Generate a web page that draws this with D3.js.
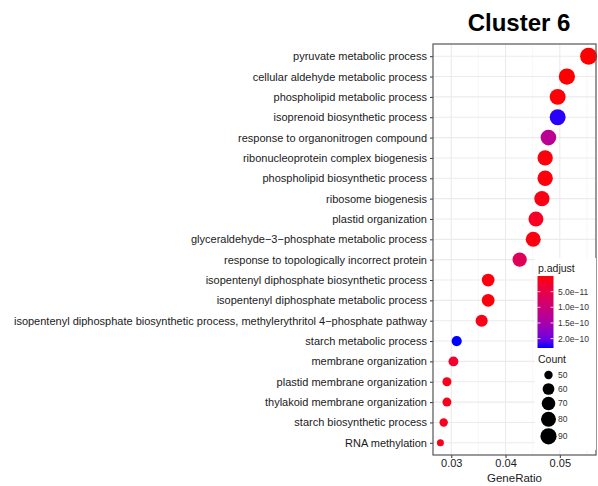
<!DOCTYPE html>
<html>
<head>
<meta charset="utf-8">
<script src="https://cdn.jsdelivr.net/npm/d3@7"></script>
<style>
  body { margin: 0; background: #fff; }
  svg { font-family: "Liberation Sans", Arial, Helvetica, sans-serif; }
  .yAxis text, .xAxis text { fill: #1a1a1a; }
</style>
</head>
<body>
<div id="container"></div>
<script>
const WIDTH = 598,
      HEIGHT = 486;

// panel box (ggplot panel)
const margin = { top: 44, bottom: 31, left: 433, right: 2 };
const width = WIDTH - margin.left - margin.right,
      height = HEIGHT - margin.top - margin.bottom;

// datos
const terms = [
  "pyruvate metabolic process",
  "cellular aldehyde metabolic process",
  "phospholipid metabolic process",
  "isoprenoid biosynthetic process",
  "response to organonitrogen compound",
  "ribonucleoprotein complex biogenesis",
  "phospholipid biosynthetic process",
  "ribosome biogenesis",
  "plastid organization",
  "glyceraldehyde\u22123\u2212phosphate metabolic process",
  "response to topologically incorrect protein",
  "isopentenyl diphosphate biosynthetic process",
  "isopentenyl diphosphate metabolic process",
  "isopentenyl diphosphate biosynthetic process, methylerythritol 4\u2212phosphate pathway",
  "starch metabolic process",
  "membrane organization",
  "plastid membrane organization",
  "thylakoid membrane organization",
  "starch biosynthetic process",
  "RNA methylation"
];
const geneRatio = [0.0553, 0.0513, 0.0496, 0.0496, 0.0479, 0.0473, 0.0473, 0.0467, 0.0456, 0.0451,
                   0.0426, 0.0368, 0.0368, 0.0356, 0.0310, 0.0304, 0.0292, 0.0292, 0.0286, 0.0280];
const counts = [98, 91, 88, 88, 85, 83, 83, 82, 80, 80, 75, 65, 65, 62, 54, 53, 51, 51, 50, 49];
const pAdjust = [1e-14, 5e-13, 3e-12, 2.26e-10, 1.25e-10, 5e-12, 4e-12, 8e-12, 1.8e-11, 6e-12,
                 6.5e-11, 5e-12, 5e-12, 9e-12, 2.3e-10, 2.5e-11, 1.2e-11, 1.2e-11, 1.5e-11, 1.0e-11];
const xTicks = [0.03, 0.04, 0.05];
const xMinor = [0.035, 0.045, 0.055];
const pTicks = [5e-11, 1e-10, 1.5e-10, 2e-10];
const pTickLabels = ["5.0e\u221211", "1.0e\u221210", "1.5e\u221210", "2.0e\u221210"];
const countBreaks = [50, 60, 70, 80, 90];

const data = terms.map((t, i) => ({
  term: t, ratio: geneRatio[i], count: counts[i], p: pAdjust[i]
}));

const svg = d3.select('#container')
  .append('svg')
  .attr("width", WIDTH)
  .attr("height", HEIGHT);

// escalas
const ext = d3.extent(geneRatio);
const pad = (ext[1] - ext[0]) * 0.05;
const xScale = d3.scaleLinear()
  .domain([ext[0] - pad, ext[1] + pad])
  .range([margin.left, margin.left + width]);

const yScale = d3.scalePoint()
  .domain(terms)
  .range([margin.top, margin.top + height])
  .padding(0.6);

const pExt = d3.extent(pAdjust);
const color = d3.scaleLinear()
  .domain(pExt)
  .range(["red", "blue"])
  .interpolate(d3.interpolateLab);

// tamano tipo area_pal de ggplot
const cExt = d3.extent(counts);
const sizeNorm = d3.scaleLinear().domain(cExt).range([0, 1]);
const radius = d3.scaleLinear().domain([0, 1]).range([3.5, 8.5]);
const r = (c) => radius(Math.sqrt(Math.max(0, sizeNorm(c))));

// grid
const grid = svg.append("g");
grid.selectAll(".minor")
  .data(xMinor)
  .join("line")
  .attr("x1", d => xScale(d)).attr("x2", d => xScale(d))
  .attr("y1", margin.top).attr("y2", margin.top + height)
  .attr("stroke", "#f2f2f2").attr("stroke-width", 0.6);
grid.selectAll(".major")
  .data(xTicks)
  .join("line")
  .attr("x1", d => xScale(d)).attr("x2", d => xScale(d))
  .attr("y1", margin.top).attr("y2", margin.top + height)
  .attr("stroke", "#ebebeb").attr("stroke-width", 1.1);
grid.selectAll(".hmajor")
  .data(terms)
  .join("line")
  .attr("x1", margin.left).attr("x2", margin.left + width)
  .attr("y1", d => yScale(d)).attr("y2", d => yScale(d))
  .attr("stroke", "#ebebeb").attr("stroke-width", 1.1);

// puntos
svg.append("g")
  .selectAll("circle")
  .data(data)
  .join("circle")
  .attr("cx", d => xScale(d.ratio))
  .attr("cy", d => yScale(d.term))
  .attr("r", d => r(d.count))
  .attr("fill", d => color(d.p));

// ejes
const xAxis = d3.axisBottom(xScale)
  .tickValues(xTicks)
  .tickSize(3)
  .tickPadding(1)
  .tickFormat(d3.format(".2f"));
svg.append("g")
  .attr("class", "xAxis")
  .attr("transform", `translate(0, ${margin.top + height})`)
  .call(xAxis)
  .call(g => g.select(".domain").remove())
  .call(g => g.selectAll("line").attr("stroke", "#333"))
  .call(g => g.selectAll("text").attr("font-size", "11px"));

const yAxis = d3.axisLeft(yScale).tickSize(3).tickPadding(3);
svg.append("g")
  .attr("class", "yAxis")
  .attr("transform", `translate(${margin.left}, 0)`)
  .call(yAxis)
  .call(g => g.select(".domain").remove())
  .call(g => g.selectAll("line").attr("stroke", "#333"))
  .call(g => g.selectAll("text").attr("font-size", "11px"));

// borde del panel
svg.append("rect")
  .attr("x", margin.left).attr("y", margin.top)
  .attr("width", width).attr("height", height)
  .attr("fill", "none")
  .attr("stroke", "#555").attr("stroke-width", 1.2);

svg.append("text")
  .attr("x", xScale.range()[0] + width / 2)
  .attr("y", 482)
  .attr("text-anchor", "middle")
  .attr("font-size", "11.5px")
  .attr("fill", "#1a1a1a")
  .text("GeneRatio");

svg.append("text")
  .attr("x", 519)
  .attr("y", 31)
  .attr("text-anchor", "middle")
  .attr("font-size", "24px")
  .attr("font-weight", "bold")
  .attr("fill", "#000")
  .text("Cluster 6");

// leyenda
const leg = svg.append("g");
leg.append("rect")
  .attr("x", 535).attr("y", 258)
  .attr("width", 61).attr("height", 192)
  .attr("fill", "#fff");

leg.append("text")
  .attr("x", 538).attr("y", 272)
  .attr("font-size", "10.5px").attr("fill", "#1a1a1a")
  .text("p.adjust");

const barTop = 276, barH = 72, barX = 537.5, barW = 16;
const defs = svg.append("defs");
const grad = defs.append("linearGradient")
  .attr("id", "pgrad")
  .attr("x1", 0).attr("y1", 0).attr("x2", 0).attr("y2", 1);
d3.range(0, 1.001, 0.1).forEach(t => {
  grad.append("stop")
    .attr("offset", t)
    .attr("stop-color", color(pExt[0] + t * (pExt[1] - pExt[0])));
});
leg.append("rect")
  .attr("x", barX).attr("y", barTop)
  .attr("width", barW).attr("height", barH)
  .attr("fill", "url(#pgrad)");

const pScale = d3.scaleLinear().domain(pExt).range([barTop, barTop + barH]);
leg.selectAll(".ptick")
  .data(pTicks)
  .join("g")
  .each(function (d) {
    const g = d3.select(this);
    const y = pScale(d);
    g.append("line").attr("x1", barX).attr("x2", barX + 3)
      .attr("y1", y).attr("y2", y).attr("stroke", "#fff").attr("stroke-width", 0.8);
    g.append("line").attr("x1", barX + barW - 3).attr("x2", barX + barW)
      .attr("y1", y).attr("y2", y).attr("stroke", "#fff").attr("stroke-width", 0.8);
  });
leg.selectAll(".plab")
  .data(pTicks)
  .join("text")
  .attr("x", 558)
  .attr("y", d => pScale(d))
  .attr("dy", "0.35em")
  .attr("font-size", "8.5px")
  .attr("fill", "#333")
  .text((d, i) => pTickLabels[i]);

leg.append("text")
  .attr("x", 538).attr("y", 363)
  .attr("font-size", "10.5px").attr("fill", "#1a1a1a")
  .text("Count");

// posiciones de las claves segun su tamano
let yk = 368;
const keyY = countBreaks.map(c => {
  const h = Math.max(14, 2 * r(c) + 1.5);
  const y = yk + h / 2;
  yk += h;
  return y;
});
leg.selectAll(".ckey")
  .data(countBreaks)
  .join("circle")
  .attr("cx", 548.5)
  .attr("cy", (d, i) => keyY[i])
  .attr("r", d => r(d))
  .attr("fill", "#000");
leg.selectAll(".clab")
  .data(countBreaks)
  .join("text")
  .attr("x", 558)
  .attr("y", (d, i) => keyY[i])
  .attr("dy", "0.35em")
  .attr("font-size", "8.5px")
  .attr("fill", "#333")
  .text(d => d);
</script>
</body>
</html>
